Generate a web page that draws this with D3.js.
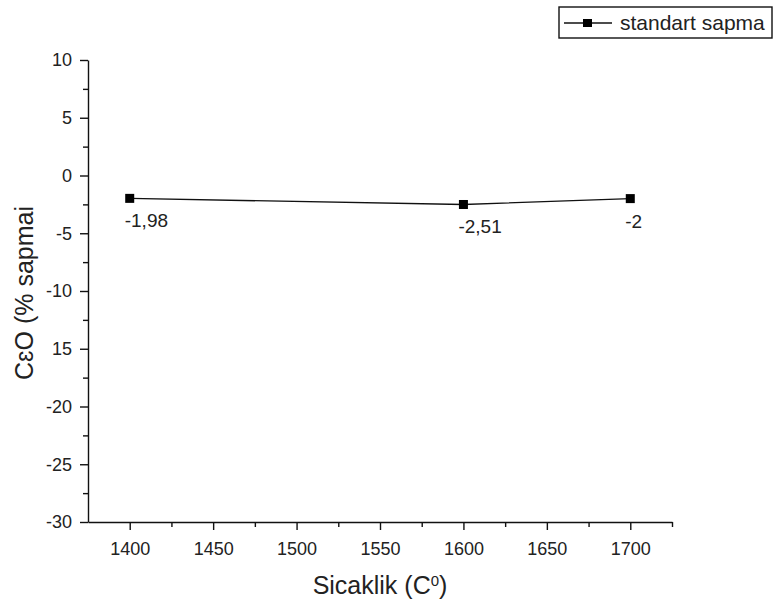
<!DOCTYPE html>
<html>
<head>
<meta charset="utf-8">
<script src="https://cdn.jsdelivr.net/npm/d3@7"></script>
<style>
  body { margin: 0; background: #fff; }
  svg { display: block; }
  text { font-family: "Liberation Sans", Arial, sans-serif; fill: #222; }
</style>
</head>
<body>
<svg id="chart" width="778" height="608"></svg>
<script>
// Temperature (°C) and deviation (%) for the series
const temperatures = [1400, 1600, 1700];
const deviations = [-1.98, -2.51, -2];
const pointLabels = ["-1,98", "-2,51", "-2"];

const xTickValues = [1400, 1450, 1500, 1550, 1600, 1650, 1700];
const xTickLabels = ["1400", "1450", "1500", "1550", "1600", "1650", "1700"];
const yTickValues = [10, 5, 0, -5, -10, -15, -20, -25, -30];
const yTickLabels = ["10", "5", "0", "-5", "-10", "15", "-20", "-25", "-30"];

const seriesName = "standart sapma";

const svg = d3.select("#chart");
const plotLeft = 88, plotRight = 672, plotTop = 60, plotBottom = 522;

const x = d3.scaleLinear().domain([1375, 1725]).range([plotLeft, plotRight]);
const y = d3.scaleLinear().domain([-30, 10]).range([plotBottom, plotTop]);

// x axis: major ticks with labels, minor ticks between
const xAxis = svg.append("g").attr("transform", `translate(0,${plotBottom})`);
xAxis.call(d3.axisBottom(x).tickValues(xTickValues)
  .tickFormat((d, i) => xTickLabels[i]).tickSizeInner(8).tickSizeOuter(0).tickPadding(12));
xAxis.append("g").call(d3.axisBottom(x)
  .tickValues(d3.range(1425, 1726, 50)).tickFormat("").tickSizeInner(5).tickSizeOuter(0))
  .select(".domain").remove();

// y axis
const yAxis = svg.append("g").attr("transform", `translate(${plotLeft},0)`);
yAxis.call(d3.axisLeft(y).tickValues(yTickValues)
  .tickFormat((d, i) => yTickLabels[i]).tickSizeInner(8).tickSizeOuter(0).tickPadding(8));
yAxis.append("g").call(d3.axisLeft(y)
  .tickValues(d3.range(-27.5, 10, 5)).tickFormat("").tickSizeInner(5).tickSizeOuter(0))
  .select(".domain").remove();

svg.selectAll(".domain, .tick line").attr("stroke", "#111").attr("stroke-width", 1.4);
svg.selectAll(".tick text").style("font-size", "18px").attr("fill", "#222");

// axis titles
svg.append("text")
  .attr("x", 380).attr("y", 594)
  .attr("text-anchor", "middle")
  .style("font-size", "25px")
  .html('Sicaklik (C<tspan baseline-shift="super" style="font-size:15px">0</tspan>)');

svg.append("text")
  .attr("transform", "translate(33,293) rotate(-90)")
  .attr("text-anchor", "middle")
  .style("font-size", "25px")
  .text("C\u025BO (% sapmai");

// series line and markers
const pts = temperatures.map((t, i) => ({ t, v: deviations[i], label: pointLabels[i] }));
svg.append("path")
  .datum(pts)
  .attr("fill", "none").attr("stroke", "#111").attr("stroke-width", 1.4)
  .attr("d", d3.line().x(d => x(d.t)).y(d => y(d.v)));

svg.selectAll("rect.marker").data(pts).enter().append("rect")
  .attr("class", "marker")
  .attr("x", d => x(d.t) - 4.5).attr("y", d => y(d.v) - 4.5)
  .attr("width", 9).attr("height", 9).attr("fill", "#000");

svg.selectAll("text.vlabel").data(pts).enter().append("text")
  .attr("class", "vlabel")
  .attr("x", d => x(d.t) - 5).attr("y", d => y(d.v) + 29)
  .style("font-size", "19px")
  .text(d => d.label);

// legend
const lg = svg.append("g").attr("transform", "translate(559,7)");
lg.append("rect").attr("width", 213).attr("height", 31)
  .attr("fill", "#fff").attr("stroke", "#111").attr("stroke-width", 1.4);
lg.append("line").attr("x1", 5).attr("x2", 53).attr("y1", 16).attr("y2", 16)
  .attr("stroke", "#111").attr("stroke-width", 1.4);
lg.append("rect").attr("x", 24).attr("y", 12).attr("width", 9).attr("height", 8).attr("fill", "#000");
lg.append("text").attr("x", 61).attr("y", 23).style("font-size", "21px").text(seriesName);
</script>
</body>
</html>
